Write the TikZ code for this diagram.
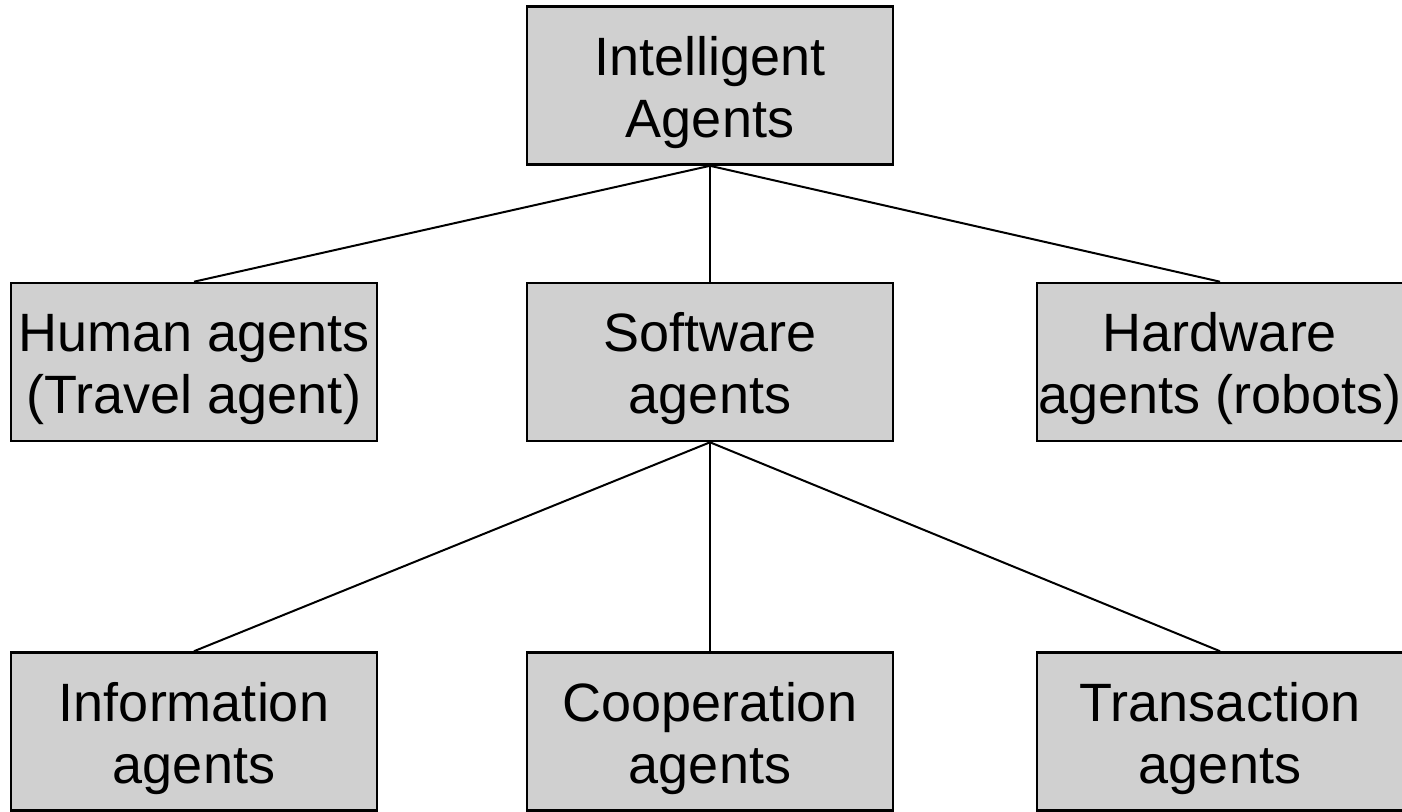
\documentclass[tikz,border=0pt]{standalone}
\usepackage{fontspec}
\setmainfont{Liberation Sans}
\definecolor{boxfill}{RGB}{208,208,208}
\begin{document}
\begin{tikzpicture}[x=1pt,y=-1pt,
  agent/.style={draw=black, line width=2.6pt, fill=boxfill, minimum width=366pt,
    minimum height=158pt, inner sep=0pt, align=center,
    text height=110pt, text depth=7pt,
    font=\fontsize{54}{62}\selectfont},
  link/.style={draw=black, line width=2pt}]
\useasboundingbox (0,0) rectangle (1402,811);
\clip (0,0) rectangle (1402,811);
\fill[white] (0,0) rectangle (1402,811);
% root
\node[agent] (root) at (710,85.5) {Intelligent\\Agents};
% second level
\node[agent] (human) at (194,362) {Human agents\\(Travel agent)};
\node[agent] (soft) at (710,362) {Software\\agents};
\node[agent] (hard) at (1220,362) {Hardware\\agents (robots)};
% third level
\node[agent] (info) at (194,731.5) {Information\\agents};
\node[agent] (coop) at (710,731.5) {Cooperation\\agents};
\node[agent] (trans) at (1220,731.5) {Transaction\\agents};
% connectors
\draw[link] (root.south) -- (human.north);
\draw[link] (root.south) -- (soft.north);
\draw[link] (root.south) -- (hard.north);
\draw[link] (soft.south) -- (info.north);
\draw[link] (soft.south) -- (coop.north);
\draw[link] (soft.south) -- (trans.north);
\end{tikzpicture}
\end{document}
